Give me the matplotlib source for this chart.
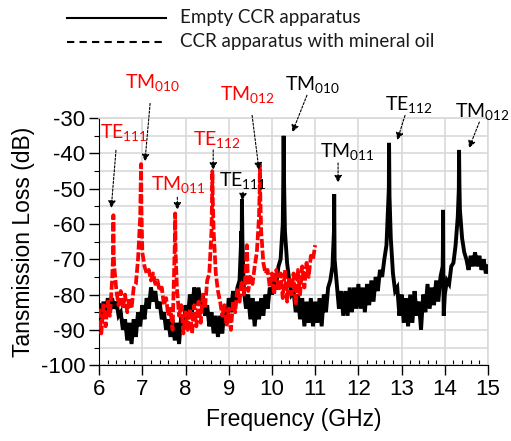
import numpy as np
import matplotlib
matplotlib.use("Agg")
import matplotlib.pyplot as plt
from matplotlib.lines import Line2D
from matplotlib.ticker import MultipleLocator

plt.rcParams['font.family'] = ['Liberation Sans', 'DejaVu Sans']
plt.rcParams['axes.unicode_minus'] = False
plt.rcParams['mathtext.default'] = 'regular'

# empty CCR apparatus: sampled every 0.05 GHz from 6 GHz (dB)
empty_start = 6.0
empty_loss = [
    -83, -87, -82, -86, -81, -85, -81, -84, -82, -86, -85, -90, -87, -93, -88, -94, -87, -92, -85, -89,
    -83, -87, -81, -84, -78, -82, -79, -84, -82, -87, -85, -90, -87, -92, -87, -93, -88, -94, -86, -90,
    -83, -87, -80, -85, -78, -83, -78, -83, -80, -86, -83, -89, -85, -91, -86, -92, -86, -91, -84, -88,
    -81, -85, -79, -83, -78, -76, -66, -79, -84, -80, -87, -81, -89, -82, -87, -81, -86, -80, -84, -78,
    -80, -76, -77, -72, -70, -60, -62, -71, -76, -80, -79, -85, -80, -87, -81, -89, -82, -88, -81, -89,
    -82, -88, -81, -89, -80, -85, -78, -76, -72, -70, -77, -84, -79, -86, -79, -86, -78, -85, -78, -84,
    -77, -84, -78, -85, -77, -83, -76, -82, -75, -79, -73, -75, -70, -66, -52, -64, -74, -79, -78, -86,
    -80, -88, -81, -89, -80, -88, -79, -86, -82, -90, -80, -85, -77, -84, -78, -83, -76, -82, -75, -72,
    -80, -76, -77, -72, -71, -66, -58, -56, -64, -68, -70, -73, -69, -72, -68, -72, -69, -73, -70, -74,
    -72,
]
# resonance tops of the empty apparatus
empty_peak_freq = [9.295, 9.305, 9.315, 10.26, 10.27, 10.28, 11.435, 11.44, 11.445,
                   12.705, 12.71, 12.72, 13.955, 13.96, 13.965, 13.975, 14.325, 14.33, 14.34]
empty_peak_loss = [-62, -53, -64, -50, -35, -48, -62, -51.5, -63,
                   -50, -37, -52, -68, -56, -72, -86, -50, -39, -50]

# CCR apparatus with mineral oil: every 0.05 GHz from 6 to 11 GHz (dB)
oil_start = 6.0
oil_loss = [
    -84, -91, -83, -89, -82, -86, -76, -72, -79, -83, -79, -84, -80, -85, -81, -84, -78, -77, -70, -58,
    -68, -72, -74, -73, -76, -74, -77, -76, -79, -78, -83, -81, -86, -84, -90, -66, -78, -86, -83, -91,
    -85, -90, -84, -91, -83, -89, -82, -88, -80, -84, -76, -74, -62, -62, -74, -79, -82, -86, -83, -89,
    -84, -90, -82, -85, -78, -82, -76, -80, -72, -79, -75, -77, -72, -68, -58, -62, -71, -74, -73, -78,
    -74, -80, -73, -79, -74, -81, -73, -82, -75, -80, -74, -83, -73, -80, -72, -78, -71, -75, -69, -70,
    -66,
]
oil_peak_freq = [6.325, 6.33, 6.335, 6.97, 6.98, 7.76, 7.77, 8.615, 8.62, 8.63,
                 9.42, 9.715, 9.72, 9.73]
oil_peak_loss = [-68, -57.5, -68, -43, -56, -57, -68, -52, -45, -53,
                 -66, -50, -43, -52]

# mode labels: text, colour, text pos, arrow tail, arrow tip (GHz, dB)
mode_labels = [
    ('TE$_{111}$', 'red', (6.58, -35.7), (6.39, -39.1), (6.28, -55.5)),
    ('TM$_{010}$', 'red', (7.23, -21.5), (7.18, -25.8), (7.06, -42.3)),
    ('TM$_{011}$', 'red', (7.83, -50.4), (7.81, -52.4), (7.81, -56.0)),
    ('TE$_{112}$', 'red', (8.73, -37.6), (8.64, -39.0), (8.64, -44.7)),
    ('TM$_{012}$', 'red', (9.43, -24.9), (9.54, -29.2), (9.70, -44.7)),
    ('TE$_{111}$', 'black', (9.33, -49.3), (9.33, -51.0), (9.31, -53.4)),
    ('TM$_{010}$', 'black', (10.95, -22.1), (10.81, -23.5), (10.47, -34.0)),
    ('TM$_{011}$', 'black', (11.74, -41.0), (11.53, -42.7), (11.53, -48.3)),
    ('TE$_{112}$', 'black', (13.18, -27.7), (13.08, -29.2), (12.90, -36.2)),
    ('TM$_{012}$', 'black', (14.88, -29.7), (14.80, -31.1), (14.56, -38.5)),
]


def merged(start, loss, peak_f, peak_l):
    f = np.concatenate([start + 0.05 * np.arange(len(loss)), peak_f])
    l = np.concatenate([loss, peak_l])
    order = np.argsort(f, kind='stable')
    return f[order], l[order]


fig = plt.figure(figsize=(5.11, 4.41), dpi=100)
ax = fig.add_axes([0.194, 0.172, 0.761, 0.560])

f1, l1 = merged(empty_start, empty_loss, empty_peak_freq, empty_peak_loss)
f2, l2 = merged(oil_start, oil_loss, oil_peak_freq, oil_peak_loss)

ax.plot(f1, l1, color='black', lw=2.8, solid_joinstyle='miter', zorder=3)
red, = ax.plot(f2, l2, color='#ff0000', lw=2.7, zorder=4)
red.set_dashes([2.4, 0.7])

ax.set_xlim(6, 15)
ax.set_ylim(-100, -30)
ax.xaxis.set_major_locator(MultipleLocator(1))
ax.xaxis.set_minor_locator(MultipleLocator(0.2))
ax.yaxis.set_major_locator(MultipleLocator(10))
ax.yaxis.set_minor_locator(MultipleLocator(5))
ax.grid(True, which='major', axis='x', color='#d9d9d9', lw=1.2)
ax.grid(True, which='both', axis='y', color='#d9d9d9', lw=1.2)
ax.set_axisbelow(True)

ax.tick_params(axis='both', which='major', labelsize=16, length=7, width=1, pad=3)
ax.tick_params(axis='x', which='minor', direction='in', length=3.5, width=0.8)
ax.tick_params(axis='y', which='minor', direction='out', length=3.5, width=0.8)
for s in ['top', 'right']:
    ax.spines[s].set_color('#d9d9d9')
    ax.spines[s].set_linewidth(1.2)

ax.set_xlabel('Frequency (GHz)', fontsize=16.5, labelpad=6)
ax.set_ylabel('Tansmission Loss (dB)', fontsize=16.5, labelpad=4)

for text, col, tpos, tail, tip in mode_labels:
    ax.text(tpos[0], tpos[1], text, color=col, fontsize=14, family='Lato',
            ha='center', va='baseline', clip_on=False, zorder=6)
    ax.annotate('', xy=tip, xytext=tail, annotation_clip=False,
                arrowprops=dict(arrowstyle='-|>', ls=(0, (2, 1.5)), lw=0.8,
                                color='black', mutation_scale=11,
                                shrinkA=0, shrinkB=0), zorder=6)

# legend drawn at the top of the figure
fig.add_artist(Line2D([67 / 511, 166 / 511], [1 - 18 / 441, 1 - 18 / 441],
                      color='black', lw=1.5))
fig.add_artist(Line2D([67 / 511, 166 / 511], [1 - 42 / 441, 1 - 42 / 441],
                      color='black', lw=1.5, dashes=[3.5, 2.5]))
fig.text(180 / 511, 1 - 18 / 441, 'Empty CCR apparatus', family='Lato',
         fontsize=13.5, va='center', color='#1a1a1a')
fig.text(180 / 511, 1 - 42 / 441, 'CCR apparatus with mineral oil', family='Lato',
         fontsize=13.5, va='center', color='#1a1a1a')

fig.savefig('out.png', dpi=100)
